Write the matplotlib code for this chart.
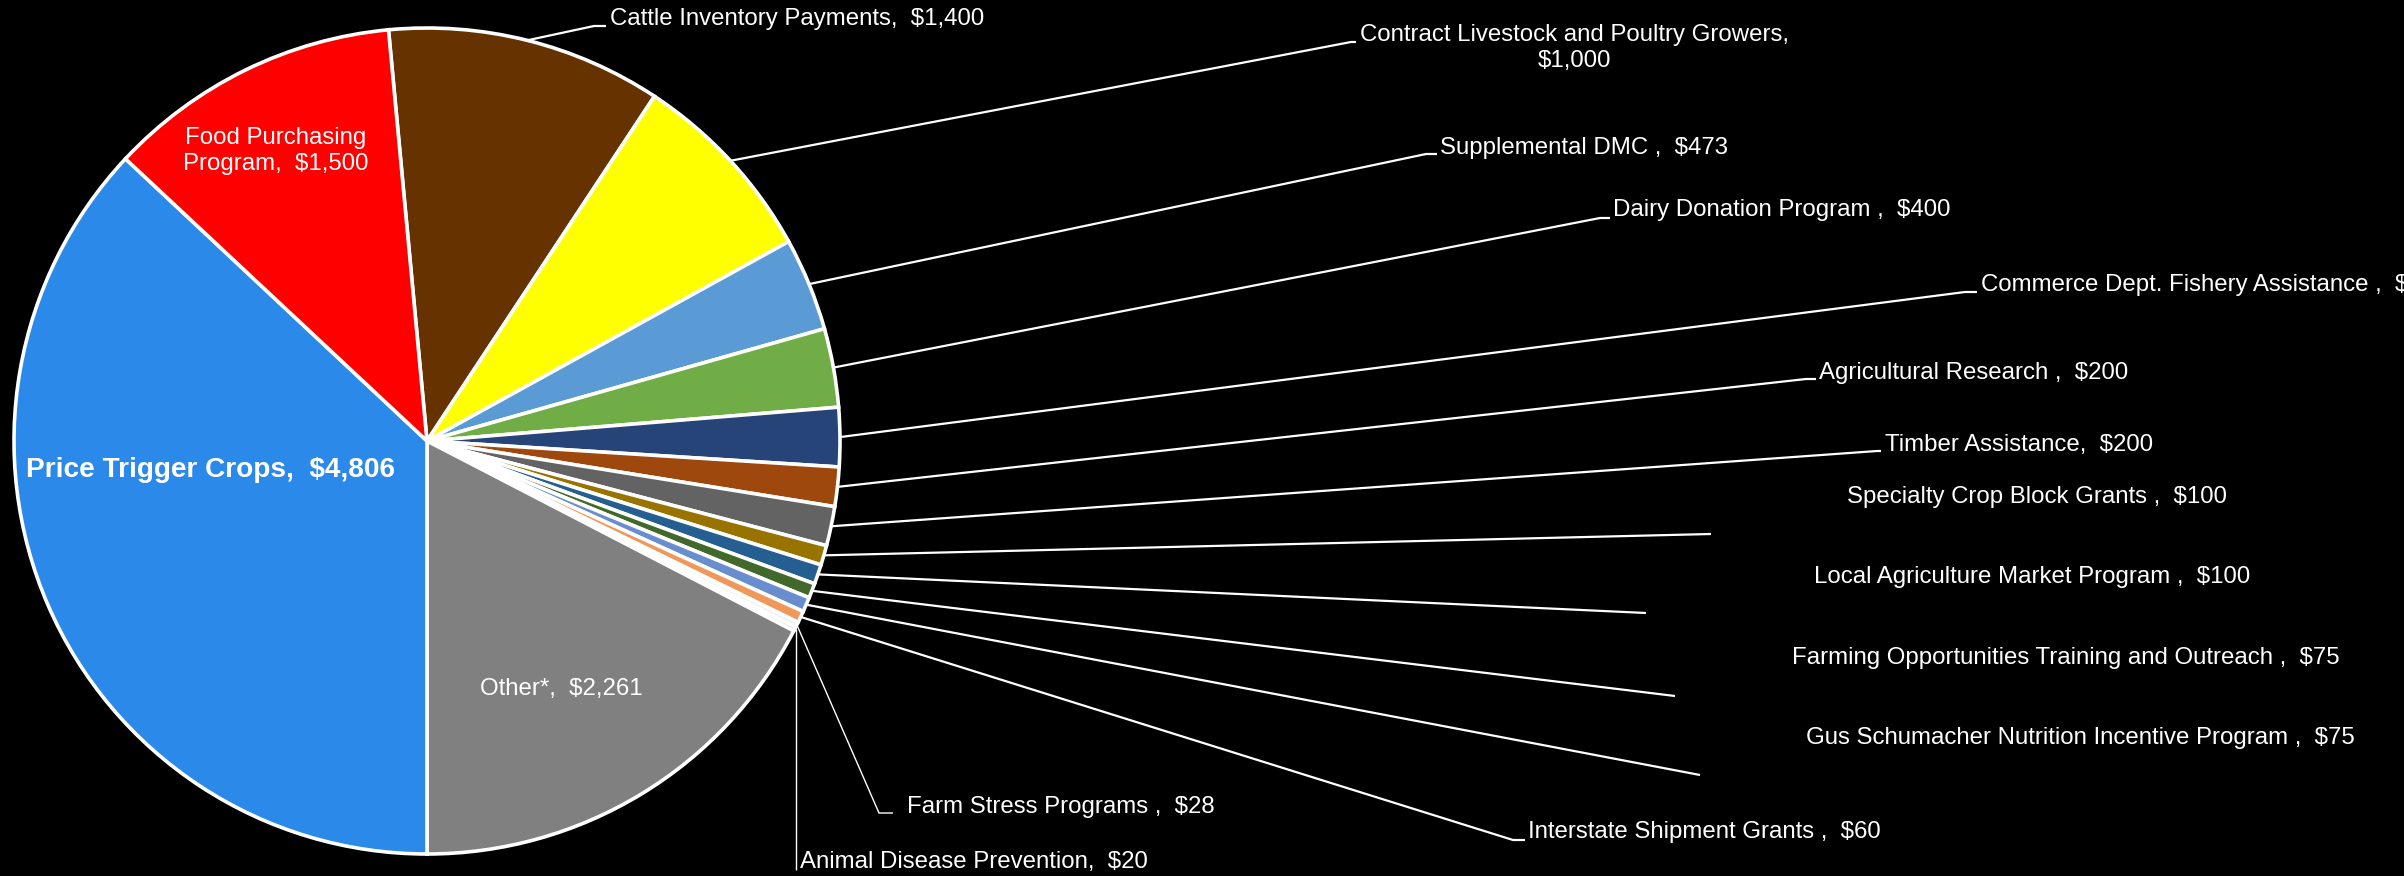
import numpy as np
import matplotlib
matplotlib.use("Agg")
import matplotlib.pyplot as plt

# programs ($ millions), clockwise from the top
programs = ["Cattle Inventory Payments", "Contract Livestock and Poultry Growers",
            "Supplemental DMC ", "Dairy Donation Program ",
            "Commerce Dept. Fishery Assistance ", "Agricultural Research ",
            "Timber Assistance", "Specialty Crop Block Grants ",
            "Local Agriculture Market Program ",
            "Farming Opportunities Training and Outreach ",
            "Gus Schumacher Nutrition Incentive Program ",
            "Interstate Shipment Grants ", "Farm Stress Programs ",
            "Animal Disease Prevention", "Other*", "Price Trigger Crops",
            "Food Purchasing Program"]
amounts = [1400, 1000, 473, 400, 300, 200, 200, 100, 100, 75, 75, 60, 28, 20,
           2261, 4806, 1500]
colors = ["#663300", "#FFFF00", "#5B9BD5", "#70AD47", "#264478", "#9E480E",
          "#636363", "#997300", "#255E91", "#43682B", "#698ED0", "#F1975A",
          "#F2F2F2", "#A5A5A5", "#808080", "#2A89E9", "#FF0000"]

W, H = 2404, 876
def py(y):
    # pixel row (from top) -> data y
    return H - y

plt.rcParams['font.family'] = ['Liberation Sans', 'DejaVu Sans']

fig = plt.figure(figsize=(W / 100, H / 100), dpi=100, facecolor='black')
ax = fig.add_axes([0, 0, 1, 1])
ax.set_facecolor('black')

cx, cy, r = 427, py(441), 413
wedges, _ = ax.pie(amounts, colors=colors, startangle=95.35, counterclock=False,
                   center=(cx, cy), radius=r,
                   wedgeprops=dict(edgecolor='white', linewidth=2.6))
ax.set_xlim(0, W)
ax.set_ylim(0, H)
ax.set_aspect('equal')
ax.axis('off')

fs = 17.3

def lbl(i):
    return "{},  ${:,}".format(programs[i], amounts[i])

# inside labels
ax.text(276, py(151), "Food Purchasing\nProgram,  $1,500", color='white',
        fontsize=fs, ha='center', va='center', linespacing=1.25)
ax.text(211, py(470), lbl(15), color='white', fontsize=20.2, fontweight='bold',
        ha='center', va='center')
ax.text(561, py(689), lbl(14), color='white', fontsize=fs, ha='center', va='center')

# outside labels: elbow point, tick end x, text x, text y, ha (pixels from top-left)
outside = {
    0: ((594, 26), 606, 610, 19, 'left'),
    1: ((1351, 42), 1356, 1575, 48, 'center'),
    2: ((1426, 154), 1437, 1440, 148, 'left'),
    3: ((1600, 218), 1610, 1613, 210, 'left'),
    4: ((1965, 292), 1977, 1981, 285, 'left'),
    5: ((1806, 379), 1816, 1819, 373, 'left'),
    6: ((1877, 451), 1881, 1885, 445, 'left'),
    7: ((1711, 534), None, 1847, 497, 'left'),
    8: ((1646, 613), None, 1814, 577, 'left'),
    9: ((1675, 696), None, 1792, 658, 'left'),
    10: ((1700, 775), None, 1806, 738, 'left'),
    11: ((1513, 840), 1525, 1528, 832, 'left'),
    12: ((879, 813), 893, 907, 807, 'left'),
    13: ((796, 870), None, 800, 862, 'left'),
}

for i, (elbow, tick, tx, ty, ha) in outside.items():
    w = wedges[i]
    mid = np.deg2rad((w.theta1 + w.theta2) / 2)
    sx, sy = cx + r * np.cos(mid), cy + r * np.sin(mid)
    ex, ey = elbow
    xs, ys = [sx, ex], [sy, py(ey)]
    if tick is not None:
        xs.append(tick)
        ys.append(py(ey))
    lw = 1.0 if i >= 12 else 1.6
    if i == 13:
        xs, ys = [ex, ex], [sy, py(ey)]
    ax.plot(xs, ys, color='white', lw=lw, solid_capstyle='butt', zorder=1)
    txt = lbl(i)
    if i == 1:
        txt = "Contract Livestock and Poultry Growers,\n$1,000"
    ax.text(tx, py(ty), txt, color='white', fontsize=fs, ha=ha, va='center',
            multialignment='center', linespacing=1.25)

fig.savefig("out.png", dpi=100, facecolor='black')
